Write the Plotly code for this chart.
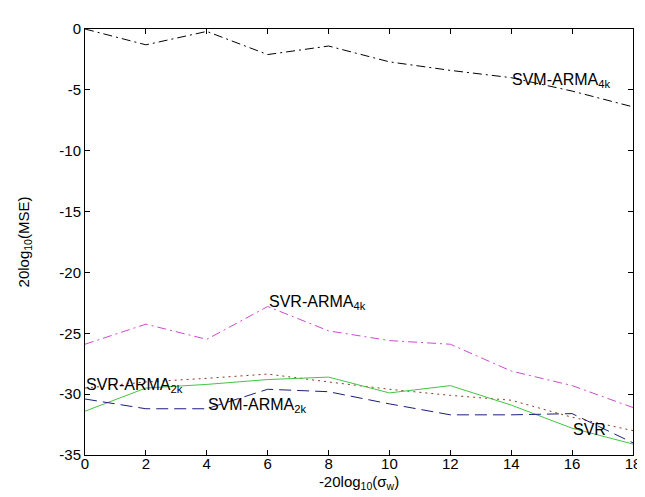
import plotly.graph_objects as go

x = [0, 2, 4, 6, 8, 10, 12, 14, 16, 18]

svm_arma_4k = [0.0, -1.3, -0.2, -2.1, -1.4, -2.7, -3.4, -4.0, -5.1, -6.4]
svr_arma_4k = [-25.9, -24.25, -25.5, -22.8, -24.8, -25.6, -25.9, -28.1, -29.3, -31.1]
svr = [-31.4, -29.5, -29.2, -28.8, -28.6, -29.9, -29.3, -30.9, -32.8, -34.1]
svr_arma_2k = [-29.5, -29.0, -28.7, -28.35, -29.0, -29.6, -30.1, -30.5, -31.9, -33.0]
svm_arma_2k = [-30.4, -31.2, -31.2, -29.6, -29.8, -30.8, -31.7, -31.7, -31.6, -34.0]

x_ticks = [0, 2, 4, 6, 8, 10, 12, 14, 16, 18]
y_ticks = [-35, -30, -25, -20, -15, -10, -5, 0]

labels = ["SVM-ARMA<sub>4k</sub>", "SVR-ARMA<sub>4k</sub>", "SVR-ARMA<sub>2k</sub>",
          "SVM-ARMA<sub>2k</sub>", "SVR"]
label_x = [14.0, 6.0, 0.0, 4.0, 16.0]
label_y = [-4.2, -22.5, -29.3, -30.9, -32.9]

FONT = "Liberation Sans, Arial, sans-serif"

fig = go.Figure()
fig.add_trace(go.Scatter(x=x, y=svm_arma_4k, mode="lines",
                         line=dict(color="#000000", width=1, dash="9px,4px,2px,4px")))
fig.add_trace(go.Scatter(x=x, y=svr_arma_4k, mode="lines",
                         line=dict(color="#cc4ccc", width=1, dash="9px,4px,2px,4px")))
fig.add_trace(go.Scatter(x=x, y=svr_arma_2k, mode="lines",
                         line=dict(color="#8a3a20", width=1, dash="2px,4px")))
fig.add_trace(go.Scatter(x=x, y=svr, mode="lines",
                         line=dict(color="#44c444", width=1)))
fig.add_trace(go.Scatter(x=x, y=svm_arma_2k, mode="lines",
                         line=dict(color="#1c1c80", width=1, dash="12px,6px")))

for t, lx, ly in zip(labels, label_x, label_y):
    fig.add_annotation(x=lx, y=ly, text=t, showarrow=False, xanchor="left", yanchor="middle",
                       borderpad=0, font=dict(family=FONT, size=16, color="#000000"))

axis_common = dict(showline=True, linecolor="#000000", linewidth=1, mirror="allticks",
                   ticks="inside", ticklen=5, tickcolor="#000000", showgrid=False,
                   zeroline=False, tickfont=dict(family=FONT, size=15, color="#000000"))

fig.update_layout(
    width=645, height=497,
    margin=dict(l=77, r=19, t=16, b=50),
    paper_bgcolor="#ffffff", plot_bgcolor="#ffffff",
    showlegend=False,
    xaxis=dict(range=[0, 18], tickvals=x_ticks, ticktext=[str(v) for v in x_ticks],
               ticklabelstandoff=-5,
               title=dict(text="-20log<sub>10</sub>(σ<sub>w</sub>)", standoff=5,
                          font=dict(family=FONT, size=15, color="#000000")),
               **axis_common),
    yaxis=dict(range=[-35, 0], tickvals=y_ticks, ticktext=[str(v) for v in y_ticks],
               title=dict(text="20log<sub>10</sub>(MSE)", standoff=26,
                          font=dict(family=FONT, size=15, color="#000000")),
               **axis_common),
)

fig.write_html("out.html")
